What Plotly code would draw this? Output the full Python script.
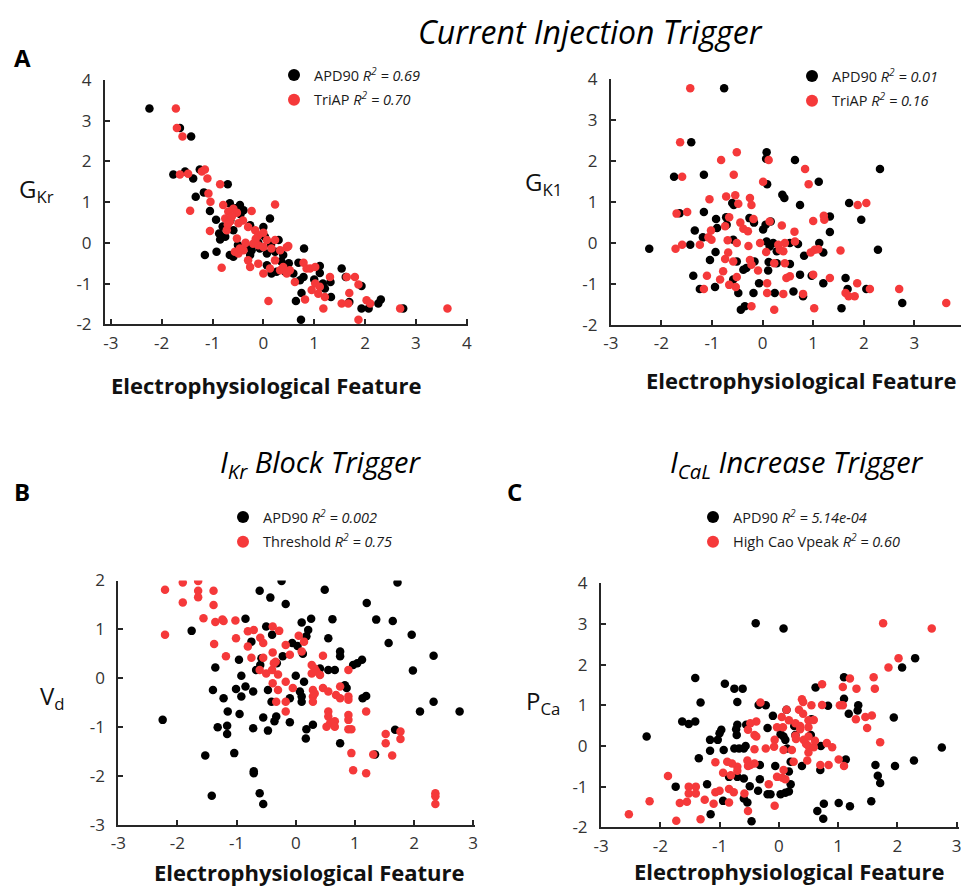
import plotly.graph_objects as go

# The page shows the figure 8px in from the window's top-left corner (body margin),
# so the figure is drawn 8px smaller and all layout positions are offset by 8px.
OFF = 8
W, H = 969 - OFF, 888 - OFF
FONT = "Open Sans"
BLACK = "#000000"
RED = "#F5393A"
AXC = "#262626"

# ---------------- data ----------------
# Panel A: Current injection trigger, G_Kr vs feature
gkr_apd90 = [(-2.24, 3.30), (-1.64, 2.82), (-1.42, 2.61), (-1.77, 1.68), (-1.54, 1.75), (-1.38, 1.58),
             (-1.25, 1.80), (-1.17, 1.24), (-1.33, 1.13), (-1.05, 0.78), (-0.93, 0.57), (-0.87, 0.23),
             (-0.85, 0.08), (-0.92, -0.22), (-1.15, -0.30), (-0.70, 1.44), (-0.66, 0.97), (-0.46, 0.93),
             (-0.39, 0.80), (-0.59, 0.31), (-0.75, 0.15), (-0.26, 0.43), (0.00, 0.39), (0.13, 0.60),
             (0.03, 0.15), (0.30, 0.07), (-0.33, -0.10), (-0.59, -0.34), (-0.66, -0.30), (-0.23, -0.18),
             (-0.07, -0.14), (0.07, -0.26), (0.23, -0.22), (0.39, -0.30), (0.80, -0.14), (-0.26, -0.30),
             (0.07, -0.55), (0.16, -0.75), (0.26, -0.71), (0.43, -0.71), (0.59, -0.75), (0.69, -0.49),
             (0.72, -0.92), (0.79, -0.84), (1.11, -0.57), (1.11, -0.74), (1.17, -1.00), (1.21, -1.12),
             (1.33, -1.33), (1.32, -0.96), (0.75, -1.23), (0.64, -1.43), (0.74, -1.89), (1.54, -0.63),
             (1.62, -0.84), (1.93, -1.06), (1.69, -1.45), (1.93, -1.61), (2.07, -1.61), (2.26, -1.49),
             (2.31, -1.39), (2.75, -1.61), (-0.55, 0.85), (-0.45, 0.70), (-0.80, 0.40), (-0.10, 0.00),
             (0.15, -0.05), (-0.50, -0.05), (0.50, -0.50), (0.35, -0.45), (1.00, -0.90), (-0.65, 0.55)]
gkr_triap = [(-1.72, 3.30), (-1.70, 2.82), (-1.59, 2.61), (-1.64, 1.68), (-1.48, 1.70), (-1.21, 1.75),
             (-1.15, 1.80), (-1.10, 1.58), (-1.08, 1.21), (-1.04, 1.01), (-1.44, 0.79), (-1.05, 0.29),
             (-0.82, -0.61), (-0.85, 1.44), (-0.79, 0.93), (-0.59, 0.84), (-0.69, 0.77), (-0.75, 0.60),
             (-0.66, 0.52), (-0.52, 0.74), (-0.49, 0.48), (-0.72, 0.31), (-0.52, 0.11), (-0.23, 0.78),
             (-0.30, 0.39), (-0.16, 0.31), (0.23, 0.94), (-0.10, 0.19), (0.07, 0.07), (0.23, 0.07),
             (-0.20, -0.02), (-0.39, -0.18), (-0.49, -0.26), (-0.56, -0.22), (-0.46, -0.14), (-0.10, -0.06),
             (0.00, -0.10), (0.16, -0.14), (0.33, -0.18), (0.46, -0.11), (0.49, -0.08), (-0.30, -0.43),
             (-0.26, -0.59), (-0.10, -0.51), (0.00, -0.75), (0.13, -0.63), (0.23, -0.43), (0.33, -0.67),
             (0.39, -0.59), (0.46, -0.75), (0.52, -0.67), (0.62, -0.96), (0.79, -0.49), (0.85, -0.63),
             (0.92, -0.63), (1.02, -0.59), (1.02, -1.00), (1.11, -1.08), (0.95, -1.16), (1.08, -1.25),
             (1.21, -1.33), (1.31, -0.84), (0.82, -1.39), (0.10, -1.43), (1.64, -0.84), (1.80, -0.84),
             (1.87, -1.02), (1.69, -1.23), (1.67, -1.49), (1.54, -1.49), (1.18, -1.61), (2.03, -1.41),
             (2.10, -1.49), (2.69, -1.61), (3.62, -1.61), (1.87, -1.89), (-0.62, 0.65), (-0.70, 0.45),
             (-0.40, 0.55), (-0.15, 0.10), (0.00, 0.25), (-0.35, 0.00)]

# Panel A (right): Current injection trigger, G_K1 vs feature
gk1_apd90 = [(-0.76, 3.78), (-1.41, 2.46), (0.08, 2.22), (0.07, 2.06), (0.64, 2.03), (2.32, 1.81),
             (-1.75, 1.62), (-1.16, 1.67), (0.09, 1.44), (1.11, 1.50), (0.39, 1.18), (0.43, 1.10),
             (0.74, 0.93), (-0.60, 0.98), (-0.57, 0.93), (1.71, 0.98), (-1.64, 0.73), (-1.16, 0.76),
             (-0.92, 0.59), (-0.71, 0.45), (-0.72, 0.63), (-0.26, 0.61), (-0.17, 0.50), (0.16, 0.53),
             (1.33, 0.65), (1.95, 0.57), (1.33, 0.27), (-1.34, 0.31), (-0.90, 0.37), (0.06, 0.45),
             (0.01, 0.33), (-2.24, -0.14), (-1.43, -0.04), (-1.18, 0.14), (-0.93, -0.22), (-1.04, -0.41),
             (-1.37, -0.80), (-1.24, -1.12), (-0.94, -1.07), (-0.58, 0.08), (-0.51, -0.45), (-0.58, -0.89),
             (-0.48, -1.22), (-0.38, -0.65), (-0.32, -0.61), (-0.16, -0.45), (-0.18, -1.22), (-0.43, -1.63),
             (-0.35, -1.54), (-0.07, -0.98), (0.24, -1.22), (0.11, -0.67), (0.12, -0.46), (0.28, -0.49),
             (0.08, 0.04), (0.14, -0.08), (0.21, 0.00), (0.28, -0.20), (0.54, 0.00), (0.70, -0.02),
             (0.54, -0.51), (0.74, -0.77), (0.61, -1.18), (0.80, -1.30), (0.82, -0.31), (1.12, 0.00),
             (1.20, -0.23), (0.97, -0.80), (1.20, -0.98), (1.64, -0.85), (1.68, -1.12), (1.56, -1.59),
             (2.05, -1.12), (2.28, -0.16), (2.76, -1.46)]
gk1_triap = [(-1.43, 3.78), (-1.63, 2.46), (0.12, 2.03), (-0.82, 2.03), (-0.51, 2.22), (0.84, 1.81),
             (-1.59, 1.62), (-0.57, 1.67), (0.01, 1.50), (0.91, 1.44), (-0.54, 1.17), (-0.72, 1.14),
             (-0.25, 1.10), (-1.05, 1.07), (-0.48, 0.96), (-0.22, 0.93), (1.88, 0.93), (2.05, 0.98),
             (-1.70, 0.72), (-1.49, 0.76), (-0.66, 0.63), (-0.74, 0.41), (-0.18, 0.59), (-0.44, 0.50),
             (0.14, 0.53), (0.38, 0.43), (1.00, 0.54), (1.21, 0.67), (1.22, 0.57), (-1.02, 0.31),
             (-0.38, 0.35), (-0.29, 0.29), (0.63, 0.28), (-1.72, -0.14), (-1.59, -0.04), (-1.24, -0.04),
             (-1.07, 0.14), (-1.01, 0.08), (-1.10, -0.80), (-1.16, -1.12), (-0.84, -0.89), (-0.78, -0.69),
             (-0.74, -0.39), (-0.68, -0.23), (-0.51, 0.00), (-0.69, 0.07), (-0.58, -0.45), (-0.66, -1.02),
             (-0.53, -1.07), (-0.51, -0.83), (-0.28, -0.07), (-0.25, -0.41), (-0.22, -0.53), (-0.09, -0.67),
             (-0.22, -1.54), (0.09, -0.98), (0.09, -1.22), (0.23, -1.63), (0.23, -0.49), (0.44, -0.49),
             (0.07, -0.22), (-0.05, 0.00), (0.31, -0.04), (0.34, -0.16), (0.41, -0.20), (0.44, 0.00),
             (0.64, 0.04), (0.47, -0.85), (0.54, -0.81), (0.41, -1.24), (0.80, -1.24), (0.95, -0.23),
             (1.03, -0.16), (1.10, -0.15), (1.00, -0.77), (1.33, -0.85), (1.02, -1.59), (1.54, -0.18),
             (1.64, -1.22), (1.70, -1.30), (1.82, -1.30), (1.87, -0.98), (2.12, -1.12), (2.70, -1.12),
             (3.63, -1.46)]

# Panel B: I_Kr block trigger, V_d vs feature
vd_apd90 = [(-0.24, 1.99), (-0.61, 1.79), (0.49, 1.81), (1.72, 1.96), (-0.43, 1.65), (-0.17, 1.52),
            (1.20, 1.54), (-0.85, 1.22), (-1.76, 0.97), (0.10, 1.14), (0.26, 1.22), (0.62, 1.21),
            (1.36, 1.20), (1.64, 1.17), (1.96, 0.89), (1.57, 0.72), (-0.50, 1.06), (-0.40, 0.89),
            (-0.75, 0.75), (0.21, 0.99), (0.18, 0.86), (0.55, 0.82), (-0.06, 0.72), (0.03, 0.66),
            (0.75, 0.55), (2.33, 0.46), (-0.96, 0.38), (1.12, 0.38), (-0.22, 0.45), (0.75, 0.45),
            (-1.36, 0.22), (-0.92, 0.05), (-0.67, 0.17), (-0.58, 0.41), (-0.60, 0.27), (-0.32, 0.31),
            (0.12, 0.50), (0.00, 0.05), (0.14, -0.07), (0.41, 0.20), (0.55, 0.17), (0.66, 0.17),
            (0.97, 0.27), (1.04, 0.31), (1.98, 0.16), (-0.47, -0.24), (-0.85, -0.17), (-1.01, -0.22),
            (-0.72, -0.27), (-0.92, -0.37), (-1.40, -0.24), (-1.22, -0.41), (-0.41, -0.48), (-0.10, -0.41),
            (0.07, -0.27), (0.10, -0.37), (0.10, -0.48), (-0.33, -0.78), (-0.36, -0.88), (-0.10, -0.90),
            (-0.55, -0.80), (-0.95, -0.73), (-1.15, -0.68), (-2.25, -0.85), (-1.32, -1.00), (-1.16, -0.97),
            (-1.16, -1.14), (-0.72, -1.02), (-0.47, -1.07), (0.17, -1.23), (0.18, -1.04), (0.29, -0.95),
            (0.83, -0.14), (0.86, -0.20), (1.13, -0.41), (1.19, -0.36), (0.75, -1.33), (1.34, -1.56),
            (1.68, -1.05), (2.10, -0.68), (2.33, -0.48), (2.77, -0.68), (-1.53, -1.58), (-1.04, -1.53),
            (-0.71, -1.90), (-0.71, -1.94), (-0.61, -2.35), (-0.55, -2.57), (-1.42, -2.40)]
vd_threshold = [(-2.21, 1.81), (-1.91, 1.96), (-1.65, 1.99), (-1.65, 1.79), (-1.39, 1.79), (-1.91, 1.55),
                (-1.65, 1.66), (-1.39, 1.50), (-1.56, 1.23), (-1.36, 1.15), (-1.24, 1.20), (-1.22, 1.17),
                (-1.02, 1.18), (-2.21, 0.89), (-0.81, 0.96), (-0.71, 0.99), (-0.39, 1.06), (-0.28, 0.97),
                (-0.60, 0.83), (-1.01, 0.82), (-0.55, 0.72), (-1.38, 0.70), (-0.81, 0.65), (0.05, 0.87),
                (0.14, 0.75), (-0.17, 0.68), (0.10, 0.55), (-0.39, 0.53), (-1.18, 0.45), (-0.75, 0.42),
                (-0.55, 0.42), (0.46, 0.46), (-0.10, 0.48), (-0.37, 0.31), (-0.34, 0.34), (-0.61, 0.17),
                (-0.50, 0.10), (-0.40, 0.17), (-0.30, 0.08), (0.27, 0.27), (0.32, 0.20), (0.27, 0.10),
                (0.35, 0.14), (0.41, 0.07), (0.89, 0.17), (-0.39, -0.10), (-0.17, -0.07), (-0.30, -0.24),
                (-0.05, -0.20), (-0.33, -0.48), (-0.17, -0.48), (-0.17, -0.68), (0.29, -0.24), (0.29, -0.37),
                (0.29, -0.48), (0.32, -0.31), (0.46, -0.20), (0.55, -0.27), (0.68, -0.34), (0.75, -0.41),
                (0.89, -0.37), (0.89, -0.44), (0.75, -0.17), (0.55, -0.68), (0.55, -0.78), (0.52, -0.99),
                (0.58, -0.92), (0.66, -0.88), (0.66, -0.99), (0.89, -0.75), (0.89, -0.85), (0.89, -1.04),
                (0.94, -1.04), (1.19, -0.68), (0.94, -1.53), (0.97, -1.88), (1.19, -1.94), (1.31, -1.56),
                (1.52, -1.14), (1.52, -1.33), (1.77, -1.09), (1.77, -1.24), (1.63, -1.58), (2.36, -2.35),
                (2.36, -2.41), (2.36, -2.57)]

# Panel C: I_CaL increase trigger, P_Ca vs feature
pca_apd90 = [(-0.39, 3.02), (0.08, 2.89), (2.30, 2.16), (2.08, 1.93), (-1.41, 1.67), (-0.91, 1.53),
             (-0.75, 1.41), (-0.61, 1.41), (-0.70, 1.08), (-1.32, 1.07), (0.62, 1.44), (1.10, 1.69),
             (-0.34, 1.01), (-0.22, 1.00), (0.83, 0.99), (1.10, 1.16), (1.34, 1.00), (1.33, 0.87),
             (1.18, 0.79), (1.94, 0.70), (2.75, -0.04), (0.13, 0.89), (0.55, 0.66), (0.26, 0.49),
             (-0.10, 0.74), (-0.19, 0.44), (-0.70, 0.52), (-0.72, 0.41), (-0.71, 0.27), (-0.55, 0.52),
             (-0.97, 0.40), (-1.00, 0.31), (-1.03, 0.15), (-1.16, 0.15), (-1.16, -0.12), (-1.63, 0.60),
             (-1.52, 0.54), (-1.41, 0.60), (-2.23, 0.23), (-1.35, -0.30), (-0.75, -0.06), (-0.67, -0.06),
             (-0.59, -0.06), (-0.56, 0.00), (-0.93, -0.10), (0.03, 0.29), (0.08, 0.23), (0.11, 0.15),
             (0.14, -0.06), (0.28, 0.27), (0.54, 0.27), (0.71, 0.00), (0.70, -0.59), (1.13, -0.33),
             (1.63, -0.47), (1.67, -0.73), (1.71, -0.91), (1.96, -0.49), (2.28, -0.36), (0.39, -0.49),
             (0.20, -0.39), (-0.06, -0.49), (-0.32, -0.47), (-0.84, -0.76), (-0.70, -0.76), (-0.59, -0.80),
             (-0.49, -0.99), (-0.32, -0.82), (-0.35, -1.10), (-0.19, -1.19), (-0.14, -1.19), (0.03, -1.19),
             (0.11, -1.15), (0.17, -1.12), (0.20, -0.94), (0.17, -0.63), (-0.59, -1.29), (-0.53, -1.39),
             (-0.46, -1.85), (-1.21, -0.94), (-0.94, -1.35), (-1.15, -1.68), (-1.74, -1.00), (0.65, -1.60),
             (0.76, -1.42), (0.75, -1.79), (1.01, -1.40), (1.20, -1.48), (1.56, -1.36)]
pca_highcao = [(1.76, 3.02), (2.58, 2.89), (2.02, 2.16), (1.85, 1.93), (0.73, 1.52), (1.20, 1.66),
               (1.60, 1.69), (1.62, 1.41), (1.31, 1.41), (1.08, 1.45), (-0.31, 1.07), (0.39, 1.15),
               (0.41, 1.08), (0.73, 1.01), (1.03, 1.00), (1.08, 1.00), (1.30, 0.66), (1.46, 0.71),
               (1.57, 0.75), (1.49, 0.44), (1.71, 0.09), (0.13, 0.89), (0.34, 0.89), (0.41, 0.79),
               (0.55, 1.00), (0.05, 0.71), (0.17, 0.63), (0.28, 0.56), (0.36, 0.49), (0.50, 0.63),
               (0.36, 0.41), (-0.38, 0.60), (-0.48, 0.56), (-0.52, 0.40), (-0.41, 0.27), (-0.38, 0.23),
               (-0.41, -0.08), (-0.22, -0.06), (-0.07, 0.15), (-0.08, -0.02), (-0.03, 0.46), (0.07, 0.46),
               (0.08, -0.10), (0.22, -0.10), (0.28, 0.25), (0.29, 0.17), (0.42, 0.15), (0.50, 0.23),
               (0.46, 0.05), (0.50, 0.00), (0.59, -0.03), (0.61, 0.13), (0.50, -0.16), (0.81, 0.07),
               (0.90, -0.03), (0.84, -0.47), (0.70, -0.47), (1.01, -0.33), (1.10, -0.49), (0.48, -0.36),
               (0.25, -0.39), (-0.41, -0.43), (-0.48, -0.47), (-0.53, -0.36), (-0.52, -0.49), (-0.70, -0.51),
               (-0.79, -0.43), (-0.87, -0.39), (-1.07, -0.40), (-0.94, -0.66), (-0.81, -0.72), (-0.70, -0.61),
               (-0.17, -0.94), (-0.03, -0.76), (0.06, -0.78), (0.11, -0.82), (0.08, -0.59), (-0.07, -1.47),
               (-0.52, -1.60), (-1.00, -1.10), (-1.07, -1.14), (-0.84, -1.06), (-0.76, -1.14), (-0.84, -1.39),
               (-0.58, -1.17), (-1.10, -1.42), (-1.25, -1.32), (-1.32, -1.80), (-1.40, -1.00), (-1.52, -1.00),
               (-1.52, -1.17), (-1.40, -1.17), (-1.55, -1.37), (-1.67, -1.40), (-1.73, -1.84), (-1.87, -0.74),
               (-2.18, -1.36), (-2.53, -1.68), (0.50, 0.46), (0.59, 0.64)]

# legend labels
names_A = ["APD90 <i>R<sup>2</sup> = 0.69</i>", "TriAP <i>R<sup>2</sup> = 0.70</i>"]
names_A2 = ["APD90 <i>R<sup>2</sup> = 0.01</i>", "TriAP <i>R<sup>2</sup> = 0.16</i>"]
names_B = ["APD90 <i>R<sup>2</sup> = 0.002</i>", "Threshold <i>R<sup>2</sup> = 0.75</i>"]
names_C = ["APD90 <i>R<sup>2</sup> = 5.14e-04</i>", "High Cao Vpeak <i>R<sup>2</sup> = 0.60</i>"]

# tick values / labels
ticks_x_wide = [-3, -2, -1, 0, 1, 2, 3, 4]
ticks_x_narrow = [-3, -2, -1, 0, 1, 2, 3]
ticks_y_A = [-2, -1, 0, 1, 2, 3, 4]
ticks_y_B = [-3, -2, -1, 0, 1, 2]


def lab(v):
    return [str(t) for t in v]


def fx(px):
    # window pixel -> paper fraction (x)
    return (px - OFF) / W


def fy(py):
    # window pixel -> paper fraction (y)
    return 1 - (py - OFF) / H


def xd(a, b):
    return [fx(a), fx(b)]


def yd(top, bottom):
    return [fy(bottom), fy(top)]


fig = go.Figure()

panels = [
    ("", gkr_apd90, gkr_triap, names_A, "legend"),
    ("2", gk1_apd90, gk1_triap, names_A2, "legend2"),
    ("3", vd_apd90, vd_threshold, names_B, "legend3"),
    ("4", pca_apd90, pca_highcao, names_C, "legend4"),
]
for i, (sfx, blk, red, nm, lg) in enumerate(panels):
    for j, (pts, col) in enumerate([(blk, BLACK), (red, RED)]):
        fig.add_trace(go.Scatter(
            x=[p[0] for p in pts], y=[p[1] for p in pts], mode="markers",
            marker=dict(size=8.5, color=col, line=dict(width=0)),
            name=nm[j], xaxis="x" + sfx, yaxis="y" + sfx,
            legend=lg, legendgroup=f"g{i}{j}", showlegend=True,
        ))

axis_common = dict(showline=True, linecolor=AXC, linewidth=2, ticks="inside", ticklen=5,
                   tickwidth=2, tickcolor=AXC, showgrid=False, zeroline=False, automargin=False,
                   tickfont=dict(family=FONT, size=17, color="#333333"))

cfg = {
    "": dict(xdom=xd(105, 468.3), ydom=yd(80, 324.3), xr=[-3.114, 4.03], yr=[-2, 4],
             xt=ticks_x_wide, yt=ticks_y_A),
    "2": dict(xdom=xd(610.8, 966.5), ydom=yd(79.3, 325), xr=[-3.0, 4.03], yr=[-2, 4],
              xt=ticks_x_wide, yt=ticks_y_A),
    "3": dict(xdom=xd(118.3, 475), ydom=yd(580.5, 825), xr=[-3.0, 3.03], yr=[-3, 2],
              xt=ticks_x_narrow, yt=ticks_y_B),
    "4": dict(xdom=xd(601, 959), ydom=yd(583.3, 827.3), xr=[-3.0, 3.04], yr=[-2, 4],
              xt=ticks_x_narrow, yt=ticks_y_A),
}
layout_axes = {}
for sfx, c in cfg.items():
    layout_axes["xaxis" + sfx] = dict(axis_common, domain=c["xdom"], range=c["xr"],
                                      tickvals=c["xt"], ticktext=lab(c["xt"]),
                                      anchor="y" + sfx, ticklabelstandoff=2)
    layout_axes["yaxis" + sfx] = dict(axis_common, domain=c["ydom"], range=c["yr"],
                                      tickvals=c["yt"], ticktext=lab(c["yt"]),
                                      anchor="x" + sfx, ticklabelstandoff=8)


def legend_at(xpx, ypx):
    return dict(x=fx(xpx), y=fy(ypx), xanchor="left", yanchor="top",
                bgcolor="rgba(0,0,0,0)", borderwidth=0, itemsizing="constant",
                traceorder="grouped", tracegroupgap=3,
                font=dict(family=FONT, size=14.5, color="#1a1a1a"))


annotations = []


def ann(text, xpx, ypx, size, bold=False, xanchor="center", yanchor="middle", color="#111111"):
    annotations.append(dict(text=f"<b>{text}</b>" if bold else text, x=fx(xpx), y=fy(ypx),
                            xref="paper", yref="paper", showarrow=False, xanchor=xanchor,
                            yanchor=yanchor, font=dict(family=FONT, size=size, color=color)))


# titles
ann("<i>Current Injection Trigger</i>", 590, 8, 32, yanchor="top", color="#000")
ann("<i>I<sub>Kr</sub> Block Trigger</i>", 320, 463, 29, color="#000")
ann("<i>I<sub>CaL</sub> Increase Trigger</i>", 797, 463, 29, color="#000")
# panel letters
ann("A", 22, 58, 24, bold=True, color="#000")
ann("B", 22, 491, 24, bold=True, color="#000")
ann("C", 514, 491, 24, bold=True, color="#000")
# x axis titles
ann("Electrophysiological Feature", 266, 385, 22, bold=True)
ann("Electrophysiological Feature", 801, 380, 22, bold=True)
ann("Electrophysiological Feature", 309, 872, 22, bold=True)
ann("Electrophysiological Feature", 789, 871, 22, bold=True)
# y axis titles
ann("G<sub>Kr</sub>", 17, 190, 24, xanchor="left")
ann("G<sub>K1</sub>", 523, 183, 24, xanchor="left")
ann("V<sub>d</sub>", 38, 697, 24, xanchor="left")
ann("P<sub>Ca</sub>", 524, 702, 24, xanchor="left")

fig.update_layout(
    width=W, height=H, margin=dict(l=0, r=0, t=0, b=0, autoexpand=False),
    paper_bgcolor="white", plot_bgcolor="white",
    font=dict(family=FONT, color="#111"),
    legend=legend_at(274, 59),
    legend2=legend_at(792, 60),
    legend3=legend_at(223, 501),
    legend4=legend_at(693, 501),
    annotations=annotations,
    **layout_axes,
)

fig.write_html("out.html")
